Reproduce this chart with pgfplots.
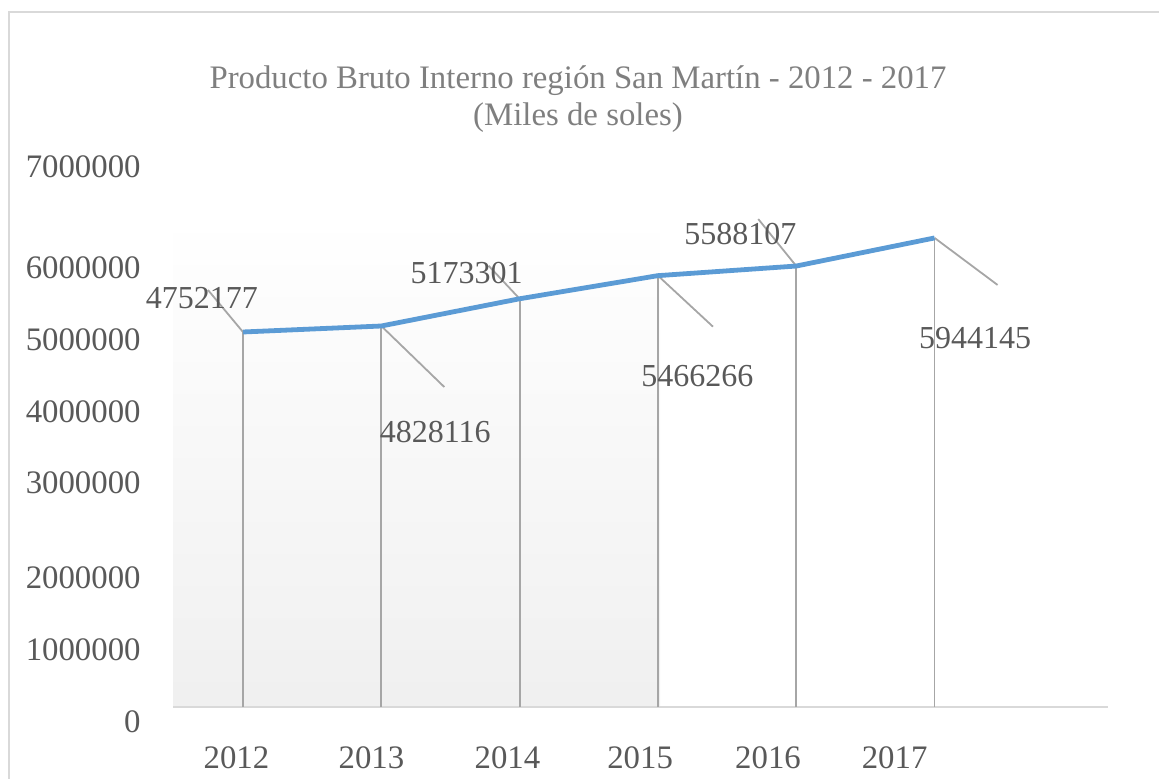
\documentclass[border=0pt]{standalone}
\usepackage{pgfplots}
\usepackage{pgfplotstable}
\pgfplotsset{compat=1.18}
\usepackage{fontspec}
\setmainfont{Liberation Serif}
\definecolor{txt}{HTML}{595959}
\definecolor{ttl}{HTML}{7F7F7F}
\definecolor{blu}{HTML}{5B9BD5}
\definecolor{drop}{HTML}{A6A6A6}
\definecolor{frm}{HTML}{D9D9D9}

\pgfplotstableread{
x y lx ly du dv
0 4752177 -20.5 17 -0.253 532245
1 4828116 27 -53 0.4555 -773023
2 5173301 -26.5 13 -0.224 418193
3 5466266 19.75 -50 0.3977 -646298
4 5588107 -28 16 -0.2748 595608
5 5944145 20.25 -50 0.4555 -595608
}\pbi

\begin{document}
\begin{tikzpicture}
\path[use as bounding box] (0,0) rectangle (579.5pt,389pt);
\draw[frm, line width=0.9pt] (4.5pt,-5pt) -- (4.5pt,383pt) -- (590pt,383pt);
\node[text=ttl, align=center, font=\fontsize{16.4}{18.5}\selectfont] at (289pt,339.5pt)
  {Producto Bruto Interno región San Martín - 2012 - 2017\\(Miles de soles)};
\begin{axis}[
  at={(86.5pt,15.5pt)}, anchor=south west,
  scale only axis, width=467.5pt, height=300pt,
  xmin=-0.506, xmax=6.254, ymin=-506900, ymax=7096600,
  clip=false, axis line style={draw=none}, major tick length=0pt,
  scaled y ticks=false, scaled x ticks=false,
  xtick={-0.047,0.929,1.912,2.871,3.796,4.711},
  xticklabels={2012,2013,2014,2015,2016,2017},
  ytick={-190088,722333,1634753,2838640,3738388,4650808,5563228,6843150},
  yticklabels={0,1000000,2000000,3000000,4000000,5000000,6000000,7000000},
  ticklabel style={font=\fontsize{16.4}{19}\selectfont, text=txt},
  yticklabel style={anchor=east, inner sep=0pt, xshift=-16pt},
  xticklabel style={anchor=center, inner sep=0pt, yshift=-5.5pt},
  /pgf/number format/assume math mode=true,
]
\fill[top color=white, bottom color=black!6] (axis cs:-0.506,0) rectangle (axis cs:3.015,6209525);
\draw[frm, line width=0.9pt] (axis cs:-0.506,0) -- (axis cs:6.254,0);
\addplot[ycomb, drop, line width=0.9pt, mark=none] table[x=x, y=y] {\pbi};
\addplot[quiver={u=\thisrow{du}, v=\thisrow{dv}}, drop, line width=0.9pt, mark=none] table[x=x, y=y] {\pbi};
\addplot[blu, line width=2.4pt, mark=none] table[x=x, y=y] {\pbi};
\addplot[draw=none, mark=none, point meta=explicit symbolic, nodes near coords,
  visualization depends on={\thisrow{lx}\as\lx},
  visualization depends on={\thisrow{ly}\as\ly},
  every node near coord/.append style={anchor=center, inner sep=0pt, xshift=\lx pt, yshift=\ly pt, text=txt, font=\fontsize{16}{19}\selectfont}]
  table[x=x, y=y, meta=y] {\pbi};
\end{axis}
\end{tikzpicture}
\end{document}
